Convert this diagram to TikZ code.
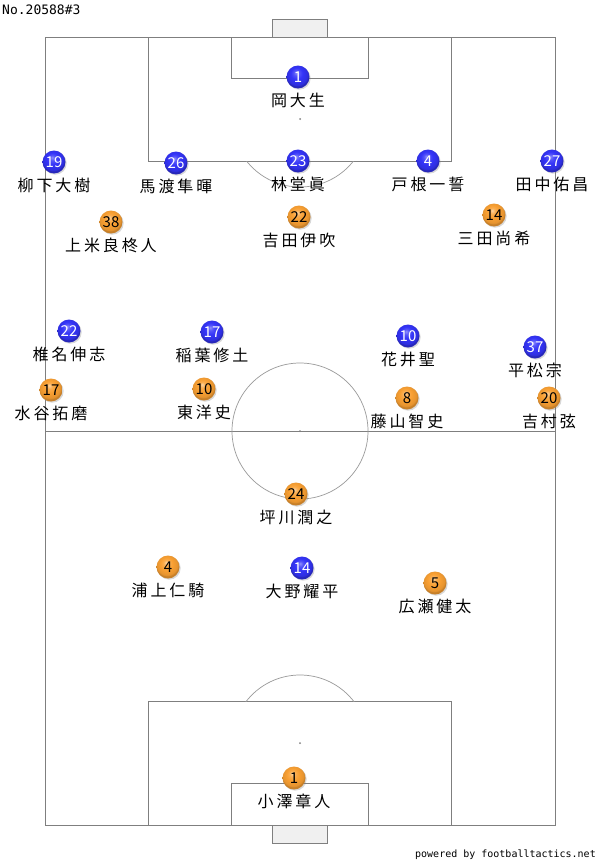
\documentclass[tikz,border=0pt]{standalone}
\usepackage{fontspec}
\newfontfamily\namefont[LetterSpace=18]{Noto Sans CJK JP}
\newfontfamily\numfont{Noto Sans CJK JP}
\newfontfamily\headfont{DejaVu Sans Mono}
\usetikzlibrary{positioning,shadows}
\definecolor{pitchline}{HTML}{7F7F7F}
\definecolor{arcline}{HTML}{9A9A9A}
\definecolor{goalfill}{HTML}{F0F0F0}
\definecolor{homeblue}{HTML}{3434F8}
\definecolor{awayorange}{HTML}{F9A033}
\pgfdeclareradialshading{homeball}{\pgfpoint{-4bp}{10bp}}{%
  color(0bp)=(homeblue!55!white); color(6bp)=(homeblue!85!white);
  color(13bp)=(homeblue); color(23bp)=(homeblue!90!black);
  color(25bp)=(homeblue!75!black); color(50bp)=(homeblue!75!black)}
\pgfdeclareradialshading{awayball}{\pgfpoint{-4bp}{10bp}}{%
  color(0bp)=(awayorange!45!white); color(6bp)=(awayorange!85!white);
  color(13bp)=(awayorange); color(23bp)=(awayorange!92!black);
  color(25bp)=(awayorange!80!black); color(50bp)=(awayorange!80!black)}
\tikzset{
  player/.style={circle, minimum size=23pt, inner sep=0pt,
    font=\numfont\fontsize{15}{15}\selectfont,
    drop shadow={shadow xshift=1.2pt, shadow yshift=-1.2pt, opacity=0.3}},
  home/.style={player, shading=homeball, text=white},
  away/.style={player, shading=awayball, text=black},
  pname/.style={font=\namefont\fontsize{16}{16}\selectfont, inner sep=0pt},
  line/.style={draw=pitchline, line width=0.9pt},
}
\begin{document}
\begin{tikzpicture}[x=1pt,y=-1pt]
  \useasboundingbox[fill=white] (0,0) rectangle (600,862);
  % pitch
  \draw[line, fill=goalfill] (272,19) rectangle (327,37);
  \draw[line, fill=goalfill] (272,825) rectangle (327,843);
  \draw[line] (45,37) rectangle (555,825);
  \draw[line] (45,431) -- (555,431);
  \draw[line] (148,37) rectangle (451,161);
  \draw[line] (231,37) rectangle (368,78);
  \draw[line] (148,701) rectangle (451,825);
  \draw[line] (231,783) rectangle (368,825);
  \draw[arcline, line width=0.7pt] (300,431) circle (68);
  \begin{scope}
    \clip (45,161) rectangle (555,300);
    \draw[arcline, line width=0.7pt] (300,119) circle (68);
  \end{scope}
  \begin{scope}
    \clip (45,600) rectangle (555,701);
    \draw[arcline, line width=0.7pt] (300,743) circle (68);
  \end{scope}
  \fill[pitchline] (300,119) circle (1);
  \fill[pitchline] (300,431) circle (1);
  \fill[pitchline] (300,743) circle (1);

  % home (blue)
  \node[home] (h1) at (298,77) {1};
  \node[home] (h19) at (54,162) {19};
  \node[home] (h26) at (176,163) {26};
  \node[home] (h23) at (298,161) {23};
  \node[home] (h4) at (428,161) {4};
  \node[home] (h27) at (552,161) {27};
  \node[home] (h22) at (69,331) {22};
  \node[home] (h17) at (212,332) {17};
  \node[home] (h10) at (408,336) {10};
  \node[home] (h37) at (535,347) {37};
  \node[home] (h14) at (302,568) {14};
  \node[pname, below=4pt of h1] (nh1) {岡大生};
  \node[pname, below=4pt of h19] (nh19) {柳下大樹};
  \node[pname, below=4pt of h26] (nh26) {馬渡隼暉};
  \node[pname, below=4pt of h23] (nh23) {林堂眞};
  \node[pname, below=4pt of h4] (nh4) {戸根一誓};
  \node[pname, below=4pt of h27] (nh27) {田中佑昌};
  \node[pname, below=4pt of h22] (nh22) {椎名伸志};
  \node[pname, below=4pt of h17] (nh17) {稲葉修土};
  \node[pname, below=4pt of h10] (nh10) {花井聖};
  \node[pname, below=4pt of h37] (nh37) {平松宗};
  \node[pname, below=4pt of h14] (nh14) {大野耀平};

  % away (orange)
  \node[away] (a38) at (111,222) {38};
  \node[away] (a22) at (299,217) {22};
  \node[away] (a14) at (494,215) {14};
  \node[away] (a17) at (51,390) {17};
  \node[away] (a10) at (204,389) {10};
  \node[away] (a8) at (407,398) {8};
  \node[away] (a20) at (549,398) {20};
  \node[away] (a24) at (296,494) {24};
  \node[away] (a4) at (168,567) {4};
  \node[away] (a5) at (435,583) {5};
  \node[away] (a1) at (294,778) {1};
  \node[pname, below=4pt of a38] (na38) {上米良柊人};
  \node[pname, below=4pt of a22] (na22) {吉田伊吹};
  \node[pname, below=4pt of a14] (na14) {三田尚希};
  \node[pname, below=4pt of a17] (na17) {水谷拓磨};
  \node[pname, below=4pt of a10] (na10) {東洋史};
  \node[pname, below=4pt of a8] (na8) {藤山智史};
  \node[pname, below=4pt of a20] (na20) {吉村弦};
  \node[pname, below=4pt of a24] (na24) {坪川潤之};
  \node[pname, below=4pt of a4] (na4) {浦上仁騎};
  \node[pname, below=4pt of a5] (na5) {広瀬健太};
  \node[pname, below=4pt of a1] (na1) {小澤章人};

  % header and footer
  \node[anchor=west, inner sep=0pt, font=\headfont\fontsize{13}{13}\selectfont] (title) at (2,10) {No.20588\#3};
  \node[anchor=east, inner sep=0pt, font=\headfont\fontsize{10}{10}\selectfont] (footer) at (596,855) {powered by footballtactics.net};
\end{tikzpicture}
\end{document}
